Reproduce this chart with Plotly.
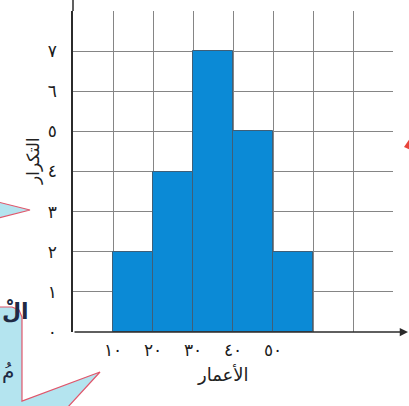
import plotly.graph_objects as go

# histogram data (ages vs frequency)
class_starts = [10, 20, 30, 40, 50]
frequencies = [2, 4, 7, 5, 2]
class_width = 10

x_tick_vals = [10, 20, 30, 40, 50]
x_tick_text = ["١٠", "٢٠", "٣٠", "٤٠", "٥٠"]
y_tick_vals = [0, 1, 2, 3, 4, 5, 6, 7]
y_tick_text = ["٠", "١", "٢", "٣", "٤", "٥", "٦", "٧"]

W, H = 409, 406
L, R, T, B = 73, 16, 11, 74
PW, PH = W - L - R, H - T - B


def px(x, y):
    # pixel position -> paper coords
    return (x - L) / PW, (H - B - y) / PH


def path(points):
    pts = [px(x, y) for x, y in points]
    return "M" + " L".join(f"{a:.4f},{b:.4f}" for a, b in pts) + " Z"


AR_FONT = "DejaVu Sans"
GRID = "#858585"
AXIS = "#2b2b2b"
BUBBLE = "#b4e4ef"
BUBBLE_EDGE = "#e0566b"

fig = go.Figure()
fig.add_trace(go.Bar(
    x=class_starts,
    y=frequencies,
    width=class_width,
    offset=0,
    marker=dict(color="#0b8ad6", line=dict(color="#3f5f78", width=1)),
    hoverinfo="skip",
))

shapes = [
    # y axis runs above the grid
    dict(type="line", xref="paper", yref="paper",
         x0=0, x1=0, y0=1, y1=px(0, 0)[1],
         line=dict(color=AXIS, width=1.5)),
    # left speech bubble pointer
    dict(type="path", xref="paper", yref="paper",
         path=path([(-2, 202), (30, 210), (-2, 218)]),
         fillcolor=BUBBLE, line=dict(color=BUBBLE_EDGE, width=1.2), layer="above"),
    # bottom left bubble
    dict(type="path", xref="paper", yref="paper",
         path=path([(-2, 307), (12, 307), (19, 310), (22, 317), (22, 401),
                    (100, 372), (67, 408), (-2, 408)]),
         fillcolor=BUBBLE, line=dict(color=BUBBLE_EDGE, width=1.2), layer="above"),
    # red tip on right edge
    dict(type="path", xref="paper", yref="paper",
         path=path([(404, 147), (411, 137), (411, 150)]),
         fillcolor="#e8443a", line=dict(width=0), layer="above"),
]

x1p, _ = px(409, H - B)
annotations = [
    # x axis arrow
    dict(x=x1p, y=0, xref="paper", yref="paper",
         ax=-(409 - L), ay=0, axref="pixel", ayref="pixel",
         showarrow=True, arrowhead=2, arrowsize=1.1, arrowwidth=1.5,
         arrowcolor=AXIS, text=""),
    dict(x=px(223, 0)[0], y=px(0, 387)[1], xref="paper", yref="paper",
         text="الأعمار", showarrow=False,
         font=dict(family=AR_FONT, size=18, color="#222222")),
    dict(x=px(21, 0)[0], y=px(0, 161)[1], xref="paper", yref="paper",
         text="التكرار", textangle=-90, showarrow=False,
         font=dict(family=AR_FONT, size=17, color="#222222")),
    dict(x=px(0, 0)[0], y=px(0, 326)[1], xref="paper", yref="paper",
         text="<b>الْ</b>", showarrow=False, xanchor="left",
         font=dict(family=AR_FONT, size=22, color="#1f2a44")),
    dict(x=px(0, 0)[0], y=px(0, 385)[1], xref="paper", yref="paper",
         text="مُ", showarrow=False, xanchor="left",
         font=dict(family=AR_FONT, size=20, color="#1f2a44")),
]

fig.update_layout(
    width=W, height=H,
    margin=dict(l=L, r=R, t=T, b=B),
    paper_bgcolor="white",
    plot_bgcolor="white",
    showlegend=False,
    bargap=0,
    shapes=shapes,
    annotations=annotations,
    xaxis=dict(
        range=[0, 80],
        tickvals=x_tick_vals,
        ticktext=x_tick_text,
        showgrid=False,
        minor=dict(dtick=10, tick0=0, showgrid=True, gridcolor=GRID, gridwidth=1),
        showline=False,
        zeroline=False,
        ticks="",
        ticklabelstandoff=6,
        tickfont=dict(family=AR_FONT, size=17, color="#1a1a1a"),
        fixedrange=True,
    ),
    yaxis=dict(
        range=[0, 8],
        tickvals=y_tick_vals,
        ticktext=y_tick_text,
        showgrid=False,
        minor=dict(dtick=1, tick0=0, showgrid=True, gridcolor=GRID, gridwidth=1),
        showline=True,
        linecolor=AXIS,
        linewidth=1.5,
        zeroline=False,
        ticks="",
        ticklabelstandoff=11,
        tickfont=dict(family=AR_FONT, size=17, color="#1a1a1a"),
        fixedrange=True,
    ),
)

# page body has a default 8px margin; drop it so the chart sits at 0,0
fig.write_html("out.html", config=dict(displayModeBar=False),
               post_script="document.body.style.margin='0';")
